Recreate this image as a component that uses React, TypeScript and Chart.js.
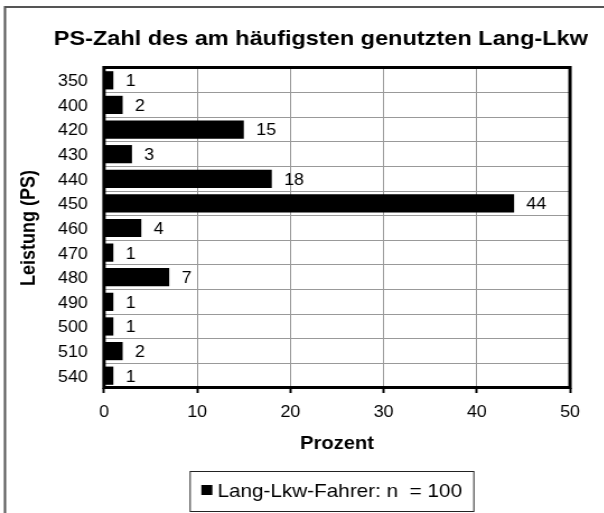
import React, { useEffect, useRef } from "react";
import { Chart, registerables } from "chart.js";

Chart.register(...registerables);

const TITLE = "PS-Zahl des am häufigsten genutzten Lang-Lkw";
const categories = ["350", "400", "420", "430", "440", "450", "460", "470", "480", "490", "500", "510", "540"];
const values = [1, 2, 15, 3, 18, 44, 4, 1, 7, 1, 1, 2, 1];
const xTickValues = [0, 10, 20, 30, 40, 50];
const seriesLabel = "Lang-Lkw-Fahrer: n  = 100";
const xTitle = "Prozent";
const yTitle = "Leistung (PS)";

const FONT = "'Liberation Sans', Arial, Helvetica, sans-serif";
// the reference picture is slightly stretched horizontally; render narrower and stretch with CSS
const INNER_W = 568;
const CSS_W = 636;
const SX = CSS_W / INNER_W;
const CANVAS_H = 513;
const PLOT_LEFT = 104 / SX;
const PLOT_RIGHT = 570 / SX;
const PAD_LEFT = 5;

const framePlugin = {
  id: "frame",
  beforeDraw(chart: any) {
    const ctx = chart.ctx;
    ctx.save();
    ctx.fillStyle = "#fff";
    ctx.fillRect(0, 0, chart.width, chart.height);
    ctx.strokeStyle = "#555";
    ctx.lineWidth = 2;
    ctx.strokeRect(5 / SX, 7, 1200, 1200);
    ctx.restore();
  },
};

const plotBorderPlugin = {
  id: "plotBorder",
  afterDatasetsDraw(chart: any) {
    const { ctx, chartArea } = chart;
    const l = chartArea.left;
    const t = Math.round(chartArea.top) - 0.5;
    const r = chartArea.right;
    const b = Math.round(chartArea.bottom) - 0.5;
    ctx.save();
    ctx.strokeStyle = "#000";
    ctx.lineWidth = 3;
    ctx.strokeRect(l, t, r - l, b - t);
    ctx.restore();
  },
};

const valueLabelPlugin = {
  id: "valueLabels",
  afterDatasetsDraw(chart: any) {
    const { ctx } = chart;
    const meta = chart.getDatasetMeta(0);
    const data = chart.data.datasets[0].data;
    ctx.save();
    ctx.fillStyle = "#000";
    ctx.font = `16px ${FONT}`;
    ctx.textAlign = "left";
    ctx.textBaseline = "middle";
    meta.data.forEach((el: any, i: number) => {
      ctx.fillText(String(data[i]), el.x + 11, el.y + 1.5);
    });
    ctx.restore();
  },
};

const boxLegendPlugin = {
  id: "boxLegend",
  afterDraw(chart: any) {
    const { ctx } = chart;
    const ds = chart.data.datasets[0];
    ctx.save();
    ctx.font = `18.5px ${FONT}`;
    const tw = ctx.measureText(ds.label).width;
    const marker = 11 / SX;
    const gap = 4.5;
    const padL = 10;
    const padR = 10.5;
    const boxW = padL + marker + gap + tw + padR;
    const cx = 332 / SX;
    const boxX = cx - boxW / 2;
    const boxY = 471.5;
    const boxH = 40;
    ctx.fillStyle = "#fff";
    ctx.fillRect(boxX, boxY, boxW, boxH);
    ctx.strokeStyle = "#222";
    ctx.lineWidth = 1;
    ctx.strokeRect(boxX, boxY, boxW, boxH);
    ctx.fillStyle = ds.backgroundColor;
    ctx.fillRect(boxX + padL, 485, marker, 10);
    ctx.fillStyle = "#000";
    ctx.textAlign = "left";
    ctx.textBaseline = "middle";
    ctx.fillText(ds.label, boxX + padL + marker + gap, 491.8);
    ctx.restore();
  },
};

export default function App() {
  const ref = useRef<HTMLCanvasElement | null>(null);

  useEffect(() => {
    if (!ref.current) return;
    const chart = new Chart(ref.current, {
      type: "bar",
      data: {
        labels: categories,
        datasets: [
          {
            label: seriesLabel,
            data: values,
            backgroundColor: "#000",
            borderColor: "#000",
            borderWidth: 0,
            barPercentage: 0.74,
            categoryPercentage: 1,
          },
        ],
      },
      options: {
        indexAxis: "y",
        responsive: false,
        animation: false,
        devicePixelRatio: 1,
        layout: { padding: { left: PAD_LEFT, top: 10, right: 0, bottom: 0 } },
        plugins: {
          legend: { display: false },
          tooltip: { enabled: false },
          title: {
            display: true,
            text: TITLE,
            color: "#000",
            font: { family: FONT, size: 21, weight: "bold" },
            padding: { top: 16.3, bottom: 16.5 },
          },
        },
        scales: {
          x: {
            type: "linear",
            position: "bottom",
            min: xTickValues[0],
            max: xTickValues[xTickValues.length - 1],
            afterBuildTicks: (s: any) => {
              s.ticks = xTickValues.map((v) => ({ value: v }));
            },
            afterFit: (s: any) => {
              s.height = 125;
            },
            ticks: {
              color: "#000",
              font: { family: FONT, size: 16 },
              padding: 9.5,
              maxRotation: 0,
            },
            grid: {
              color: "#999",
              lineWidth: 1,
              drawTicks: true,
              tickLength: 5,
              tickColor: "#000",
              tickWidth: 2,
            },
            border: { display: false },
            title: {
              display: true,
              text: xTitle,
              color: "#000",
              font: { family: FONT, size: 18, weight: "bold" },
              padding: { top: 0, bottom: 58 },
            },
          },
          y: {
            type: "category",
            position: "left",
            afterFit: (s: any) => {
              s.width = PLOT_LEFT - PAD_LEFT;
            },
            ticks: {
              color: "#000",
              font: { family: FONT, size: 16 },
              padding: 14.4,
              labelOffset: 1.5,
            },
            grid: {
              color: "#999",
              lineWidth: 1,
              offset: true,
              drawTicks: false,
            },
            border: { display: false },
            title: {
              display: true,
              text: yTitle,
              color: "#000",
              font: { family: FONT, size: 18, weight: "bold" },
              padding: { top: 10, bottom: 0 },
            },
          },
          yRightSpace: {
            type: "linear",
            position: "right",
            display: true,
            grid: { display: false },
            ticks: { display: false },
            border: { display: false },
            afterFit: (s: any) => {
              s.width = INNER_W - PLOT_RIGHT;
            },
          },
        },
      } as any,
      plugins: [framePlugin, plotBorderPlugin, valueLabelPlugin, boxLegendPlugin],
    });
    return () => chart.destroy();
  }, []);

  return (
    <div
      style={{
        position: "absolute",
        left: 0,
        top: 0,
        width: 604,
        height: 513,
        overflow: "hidden",
        background: "#fff",
      }}
    >
      <canvas
        ref={ref}
        width={INNER_W}
        height={CANVAS_H}
        style={{ width: CSS_W, height: CANVAS_H, display: "block" }}
      />
    </div>
  );
}
